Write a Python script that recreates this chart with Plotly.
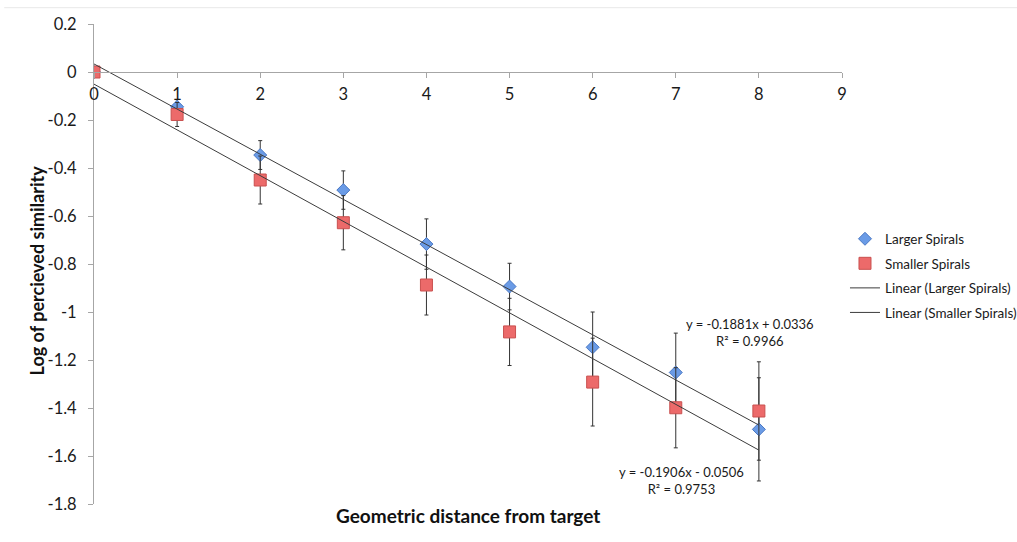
import plotly.graph_objects as go

# Distance from target and log similarity per spiral size
distance = [0, 1, 2, 3, 4, 5, 6, 7, 8]
larger_vals = [0.0, -0.145, -0.346, -0.492, -0.717, -0.894, -1.147, -1.252, -1.489]
larger_err = [0.0, 0.03, 0.06, 0.08, 0.105, 0.097, 0.147, 0.164, 0.215]
smaller_vals = [0.0, -0.177, -0.45, -0.628, -0.8875, -1.083, -1.292, -1.399, -1.4125]
smaller_err = [0.0, 0.05, 0.10, 0.113, 0.125, 0.14, 0.183, 0.167, 0.205]

# Linear fits (slope, intercept, R²)
larger_fit = (-0.1881, 0.0336, 0.9966)
smaller_fit = (-0.1906, -0.0506, 0.9753)

x_ticks = [0, 1, 2, 3, 4, 5, 6, 7, 8, 9]
y_ticks = [0.2, 0, -0.2, -0.4, -0.6, -0.8, -1, -1.2, -1.4, -1.6, -1.8]
y_tick_text = ["0.2", "0", "-0.2", "-0.4", "-0.6", "-0.8", "-1", "-1.2", "-1.4", "-1.6", "-1.8"]

FONT = "Lato"
AXIS_GREY = "#a6a6a6"
LINE_GREY = "#3c3c3c"

fig = go.Figure()

fig.add_trace(go.Scatter(
    x=distance, y=larger_vals, mode="markers", name="Larger Spirals",
    legendgroup="a", legendrank=1,
    marker=dict(symbol="diamond", size=10, color="#6a9be6",
                line=dict(color="#4a78c4", width=1)),
    error_y=dict(type="data", array=larger_err, visible=True,
                 color="#333333", thickness=1, width=2),
))
fig.add_trace(go.Scatter(
    x=distance, y=smaller_vals, mode="markers", name="Smaller Spirals",
    legendgroup="b", legendrank=2,
    marker=dict(symbol="square", size=12, color="#ec6a6a",
                line=dict(color="#c9504f", width=1)),
    error_y=dict(type="data", array=smaller_err, visible=True,
                 color="#333333", thickness=1, width=2),
))

fit_x = [distance[0], distance[-1]]
for (slope, icpt, _), label, grp, rank in [
    (larger_fit, "Linear (Larger Spirals)", "c", 3),
    (smaller_fit, "Linear (Smaller Spirals)", "d", 4),
]:
    fig.add_trace(go.Scatter(
        x=fit_x, y=[slope * v + icpt for v in fit_x], mode="lines",
        name=label, legendgroup=grp, legendrank=rank,
        line=dict(color=LINE_GREY, width=1),
    ))


def eq_text(fit):
    slope, icpt, r2 = fit
    sign = "+" if icpt >= 0 else "-"
    return f"y = {slope:.4f}x {sign} {abs(icpt):.4f}<br>R² = {r2:.4f}"


fig.add_annotation(x=7.89, y=-1.085, xref="x", yref="y", text=eq_text(larger_fit),
                   showarrow=False, font=dict(size=13, color="#1a1a1a", family=FONT))
fig.add_annotation(x=7.07, y=-1.70, xref="x", yref="y", text=eq_text(smaller_fit),
                   showarrow=False, font=dict(size=13, color="#1a1a1a", family=FONT))

# Axis titles
fig.add_annotation(x=0.5, y=-0.023, xref="paper", yref="paper",
                   xanchor="center", yanchor="middle",
                   text="<b>Geometric distance from target</b>", showarrow=False,
                   font=dict(size=19, color="#111111", family=FONT))
fig.add_annotation(x=-0.0756, y=0.4875, xref="paper", yref="paper", textangle=-90,
                   xanchor="center", yanchor="middle",
                   text="<b>Log of percieved similarity</b>", showarrow=False,
                   font=dict(size=18, color="#111111", family=FONT))

# thin page rule above the chart
fig.add_shape(type="line", xref="paper", yref="paper", x0=-0.12, x1=1.24,
              y0=1.034, y1=1.034, line=dict(color="#e8e8e8", width=1))

fig.update_layout(
    width=1017, height=542,
    margin=dict(l=94, r=175, t=24, b=38, autoexpand=False),
    paper_bgcolor="white", plot_bgcolor="white",
    font=dict(family=FONT, color="#1a1a1a"),
    showlegend=True,
    legend=dict(x=1.004, xanchor="left", y=0.475, yanchor="middle",
                traceorder="grouped", tracegroupgap=4,
                font=dict(size=13.5, family=FONT, color="#1a1a1a"),
                bgcolor="rgba(0,0,0,0)"),
    xaxis=dict(range=[0, 9], tickvals=x_ticks, showgrid=False, zeroline=False,
               showline=True, linecolor=AXIS_GREY, linewidth=1,
               ticks="outside", ticklen=5, tickcolor=AXIS_GREY,
               anchor="free", position=0.9, ticklabelstandoff=2,
               tickfont=dict(size=16.5, family=FONT, color="#1a1a1a")),
    yaxis=dict(range=[-1.8, 0.2], tickvals=y_ticks, ticktext=y_tick_text,
               showgrid=False, zeroline=False,
               showline=True, linecolor=AXIS_GREY, linewidth=1,
               ticks="outside", ticklen=5, tickcolor=AXIS_GREY,
               ticklabelstandoff=8,
               tickfont=dict(size=16.5, family=FONT, color="#1a1a1a")),
)

fig.write_html("out.html")
